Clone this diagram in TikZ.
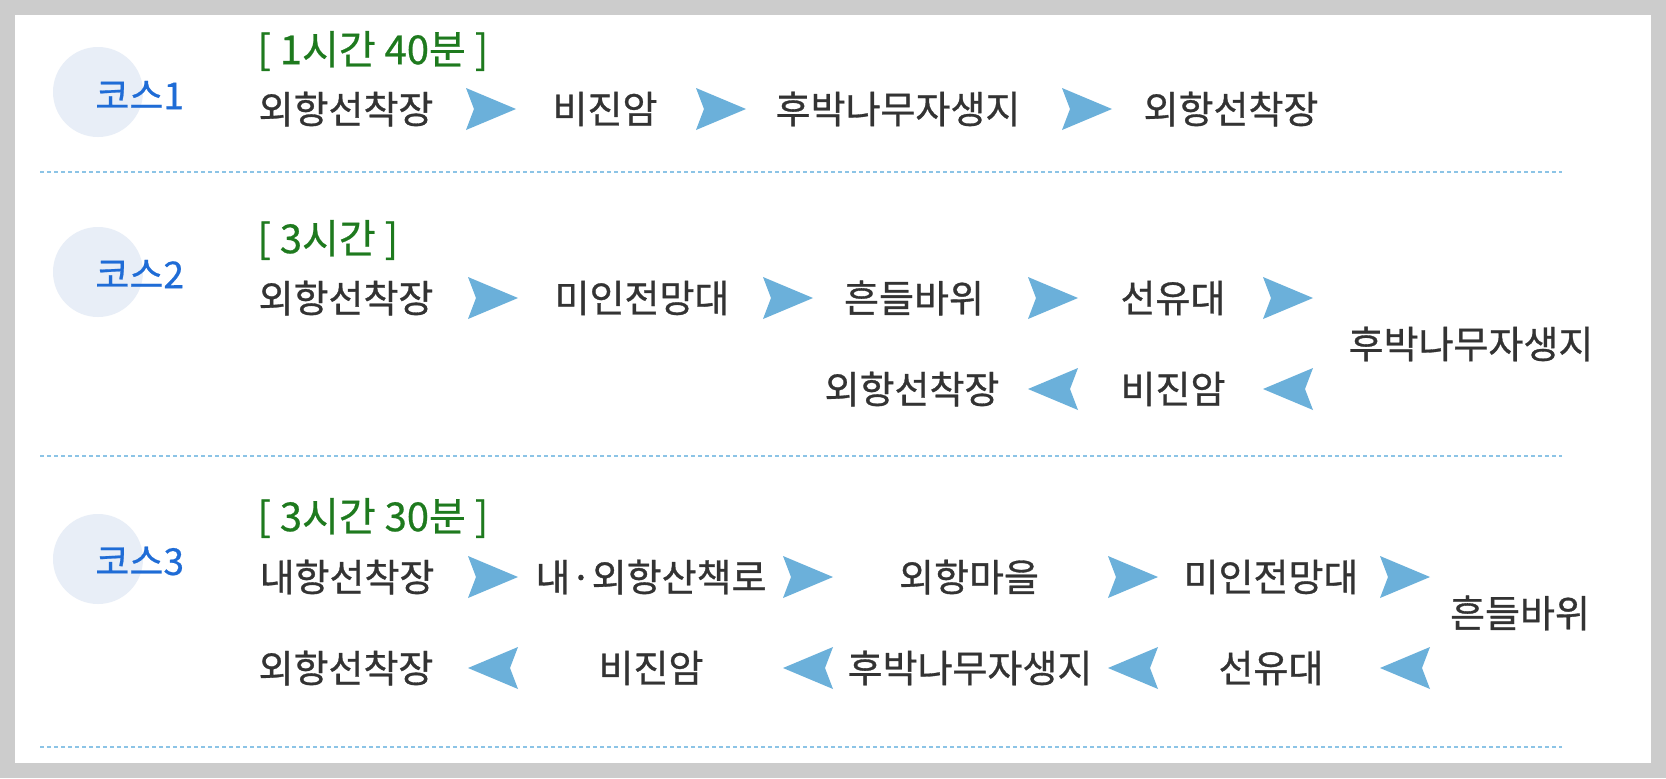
\documentclass[tikz,border=0pt]{standalone}
\usepackage{fontspec}
\setmainfont{Noto Sans CJK KR}
\newfontfamily\placefont{Noto Sans CJK KR}[FakeBold=0.8]
\newfontfamily\timefont{Noto Sans CJK KR}[FakeBold=0.6]
\usetikzlibrary{positioning}
\definecolor{frame}{HTML}{CCCCCC}
\definecolor{place}{HTML}{333333}
\definecolor{time}{HTML}{1E7A1E}
\definecolor{course}{HTML}{1F6CD6}
\definecolor{disc}{HTML}{E8EEF7}
\definecolor{arr}{HTML}{6BB0DA}
\definecolor{rule}{HTML}{8CC4E6}
\tikzset{
  place/.style={text=place,font=\placefont\fontsize{19}{22}\selectfont,inner sep=0pt},
  time/.style={text=time,font=\timefont\fontsize{20}{22}\selectfont,inner sep=0pt,anchor=west},
  course/.style={text=course,font=\timefont\fontsize{18.5}{20}\selectfont,inner sep=0pt,anchor=west},
  disc/.style={circle,fill=disc,minimum size=45pt,inner sep=0pt},
  sep/.style={draw=rule,line width=0.75pt,dash pattern=on 2pt off 1.5pt},
  rarr/.pic={\fill[arr] (-25,-21)--(25,0)--(-25,21)--(-17,0)--cycle;},
  larr/.pic={\fill[arr] (25,-21)--(-25,0)--(25,21)--(17,0)--cycle;},
}
\begin{document}
\begin{tikzpicture}[x=0.5pt,y=-0.5pt]
  \useasboundingbox (0,0) rectangle (1666,778);
  \fill[frame] (0,0) rectangle (1666,778);
  \fill[white] (15,15) rectangle (1651,763);
  % course 1
  \node[disc] (c1) at (98,92){};
  \node[course] (k1) at (95,95){코스1};
  \node[time] (h1) at (257,51){[ 1시간 40분 ]};
  \node[place] (a1) at (346,109){외항선착장};
  \node[place] (a2) at (605,109){비진암};
  \node[place] (a3) at (898,109){후박나무자생지};
  \node[place] (a4) at (1231,109){외항선착장};
  \pic at (491,109){rarr};
  \pic at (721,109){rarr};
  \pic at (1087,109){rarr};
  \draw[sep] (40,172)--(1562,172);
  % course 2
  \node[disc] (c2) at (98,272){};
  \node[course] (k2) at (95,274){코스2};
  \node[time] (h2) at (257,240){[ 3시간 ]};
  \node[place] (b1) at (346,298){외항선착장};
  \node[place] (b2) at (642,298){미인전망대};
  \node[place] (b3) at (914,298){흔들바위};
  \node[place] (b4) at (1173,298){선유대};
  \node[place] (b5) at (1471,344){후박나무자생지};
  \node[place] (b6) at (1173,389){비진암};
  \node[place] (b7) at (912,389){외항선착장};
  \pic at (493,298){rarr};
  \pic at (788,298){rarr};
  \pic at (1053,298){rarr};
  \pic at (1288,298){rarr};
  \pic at (1288,389){larr};
  \pic at (1053,389){larr};
  \draw[sep] (40,456)--(1562,456);
  % course 3
  \node[disc] (c3) at (98,559){};
  \node[course] (k3) at (95,561){코스3};
  \node[time] (h3) at (257,518){[ 3시간 30분 ]};
  \node[place] (d1) at (347,577){내항선착장};
  \node[place] (d2) at (651,577){내·외항산책로};
  \node[place] (d3) at (969,577){외항마을};
  \node[place] (d4) at (1271,577){미인전망대};
  \node[place] (d5) at (1520,613){흔들바위};
  \node[place] (d6) at (1271,668){선유대};
  \node[place] (d7) at (970,668){후박나무자생지};
  \node[place] (d8) at (651,668){비진암};
  \node[place] (d9) at (346,668){외항선착장};
  \pic at (493,577){rarr};
  \pic at (808,577){rarr};
  \pic at (1133,577){rarr};
  \pic at (1405,577){rarr};
  \pic at (1405,668){larr};
  \pic at (1133,668){larr};
  \pic at (808,668){larr};
  \pic at (493,668){larr};
  \draw[sep] (40,747)--(1562,747);
\end{tikzpicture}
\end{document}
